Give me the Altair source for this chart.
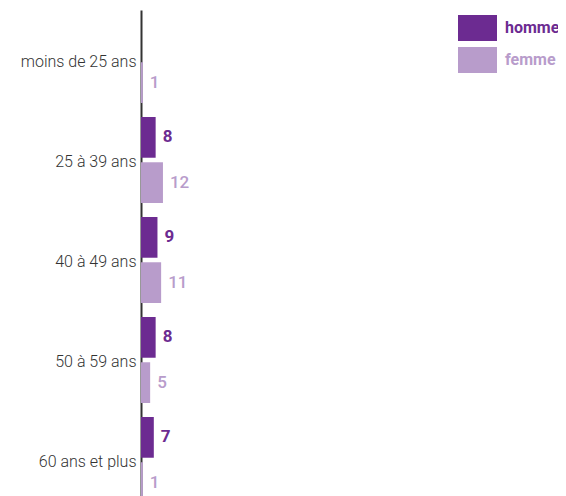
import altair as alt
import pandas as pd

categories = ["moins de 25 ans", "25 à 39 ans", "40 à 49 ans", "50 à 59 ans", "60 ans et plus"]
homme = [0, 8, 9, 8, 7]
femme = [1, 12, 11, 5, 1]
series = ["homme", "femme"]
colors = ["#6c2b91", "#b89ccb"]

rows = []
for c, h, f in zip(categories, homme, femme):
    rows.append({"age": c, "sexe": "homme", "n": h})
    rows.append({"age": c, "sexe": "femme", "n": f})
df = pd.DataFrame(rows)

num_font = "Roboto"

y_enc = alt.Y(
    "age:N",
    sort=categories,
    scale=alt.Scale(paddingInner=0.14, paddingOuter=0.07),
    axis=alt.Axis(
        title=None, ticks=False, grid=False, domainColor="#333333", domainWidth=2,
        labelFont="Roboto", labelFontSize=16, labelFontWeight=300, labelColor="#333333",
        labelPadding=5, labelOffset=2,
    ),
)
yoff = alt.YOffset("sexe:N", sort=series, scale=alt.Scale(paddingInner=0.1))
x_enc = alt.X("n:Q", scale=alt.Scale(domain=[0, 100]), axis=None)

bars = alt.Chart(df).mark_bar().encode(
    y=y_enc,
    yOffset=yoff,
    x=x_enc,
    color=alt.Color(
        "sexe:N",
        sort=series,
        scale=alt.Scale(domain=series, range=colors),
        legend=alt.Legend(
            title=None,
            orient="none",
            legendX=317,
            legendY=5,
            symbolType="M-1,-1L2,-1L2,1L-1,1Z",
            symbolSize=676,
            symbolOpacity=1,
            symbolStrokeWidth=0,
            labelFont=num_font,
            labelFontSize=16,
            labelFontWeight="bold",
            labelColor={"expr": "datum.value == 'homme' ? '#6c2b91' : '#b89ccb'"},
            labelOffset=21,
            rowPadding=6,
            labelLimit=300,
        ),
    ),
)

text_h = alt.Chart(df).transform_filter(
    "datum.sexe == 'homme' && datum.n > 0"
).mark_text(
    align="left", baseline="middle", dx=7, font=num_font, fontSize=17, fontWeight="bold", color=colors[0]
).encode(y=y_enc, yOffset=yoff, x=x_enc, text="n:Q")

text_f = alt.Chart(df).transform_filter(
    "datum.sexe == 'femme' && datum.n > 0"
).mark_text(
    align="left", baseline="middle", dx=7, font=num_font, fontSize=17, fontWeight=500, color=colors[1]
).encode(y=y_enc, yOffset=yoff, x=x_enc, text="n:Q")

chart = alt.layer(bars, text_h, text_f).properties(
    width=183,
    height=500,
    padding={"left": 133, "top": 2, "right": 234, "bottom": 0},
    autosize=alt.AutoSizeParams(type="none"),
).configure_view(stroke=None)

chart.save("out.html", embed_options={"renderer": "svg", "actions": False})
